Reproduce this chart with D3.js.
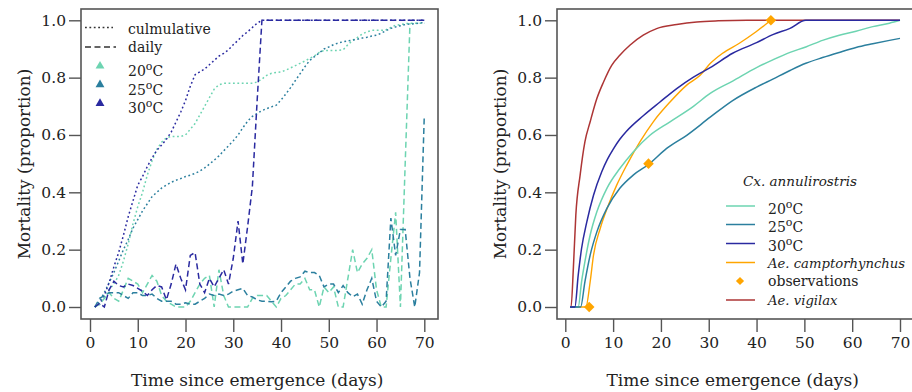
<!DOCTYPE html>
<html><head><meta charset="utf-8">
<script src="https://cdn.jsdelivr.net/npm/d3@7"></script>
<style>body{margin:0;background:#fff}svg{display:block}text{font-family:"DejaVu Serif",serif;fill:#222}</style>
</head><body><svg id="c" width="912" height="392"></svg>
<script>
// ---------- DATA ----------
const temps = ["20", "25", "30"];
const tempColors = ["#6dd4b1", "#2b7f9e", "#2a2aa0"];
const xTicks = [0, 10, 20, 30, 40, 50, 60, 70];
const yTicks = [0, 0.2, 0.4, 0.6, 0.8, 1.0];

// left panel: observed, one value per day starting at day 1
const cum20 = [0,0.01,0.03,0.06,0.08,0.11,0.16,0.22,0.29,0.35,0.40,0.46,0.51,0.55,0.575,0.59,0.595,0.595,0.595,0.6,
  0.62,0.64,0.67,0.70,0.73,0.76,0.775,0.78,0.78,0.78,0.78,0.78,0.78,0.78,0.785,0.795,0.808,0.815,0.818,0.82,
  0.826,0.834,0.842,0.85,0.858,0.867,0.876,0.888,0.895,0.895,0.895,0.895,0.897,0.915,0.93,0.94,0.952,0.96,0.965,0.965,
  0.965,0.967,0.975,0.983,0.985,0.988,0.99,0.99,0.99,0.99];
const cum25 = [0,0.02,0.05,0.085,0.12,0.16,0.2,0.235,0.275,0.305,0.335,0.36,0.385,0.4,0.415,0.425,0.435,0.442,0.448,0.455,
  0.46,0.466,0.474,0.485,0.498,0.512,0.527,0.545,0.562,0.58,0.6,0.625,0.648,0.665,0.675,0.685,0.692,0.698,0.704,0.722,
  0.743,0.765,0.79,0.814,0.838,0.86,0.873,0.886,0.9,0.907,0.915,0.921,0.925,0.928,0.931,0.934,0.938,0.941,0.945,0.948,
  0.955,0.964,0.972,0.977,0.981,0.985,0.987,0.988,0.99,0.993];
const cum30 = [0,0.01,0.04,0.085,0.14,0.19,0.25,0.315,0.37,0.425,0.455,0.49,0.52,0.547,0.565,0.585,0.61,0.645,0.68,0.72,
  0.77,0.81,0.82,0.83,0.845,0.86,0.875,0.885,0.897,0.915,0.93,0.947,0.96,0.975,0.99,1,1,1,1,1,
  1,1,1,1,1,1,1,1,1,1,1,1,1,1,1,1,1,1,1,1,1,1,1,1,1,1,1,1,1,1];
const daily20 = [0,0.01,0.03,0.05,0.03,0.02,0.06,0.1,0.09,0.08,0.05,0.08,0.11,0.09,0.04,0.02,0.01,0,0,0,
  0.02,0.05,0.08,0.1,0.11,0,0.13,0.04,0,0,0,0,0,0.03,0.04,0.04,0.04,0.02,0,0.03,
  0.04,0.06,0.08,0.08,0.1,0.06,0.06,0,0.07,0.05,0.07,0,0,0.1,0.2,0.12,0.15,0.17,0.2,0.06,
  0,0,0.17,0.33,0,0.5,0.99];
const daily25 = [0,0.03,0.04,0.05,0.05,0.05,0.04,0.03,0.05,0.05,0.04,0.04,0.045,0.03,0.02,0.02,0.02,0.01,0.01,0.015,
  0.01,0.01,0.02,0.03,0.045,0.04,0.045,0.04,0.045,0.055,0.06,0.065,0.04,0.035,0.025,0.02,0.02,0.018,0.02,0.05,
  0.07,0.09,0.1,0.105,0.125,0.12,0.12,0.11,0.07,0.08,0.08,0.05,0.075,0.05,0.036,0.045,0.01,0.06,0.1,0.02,
  0,0.02,0.31,0.18,0.27,0.27,0.1,0,0.12,0.67];
const daily30 = [0,0.013,0,0.06,0.09,0.075,0.07,0.08,0.075,0.065,0.055,0.04,0.06,0.075,0.07,0.025,0.08,0.15,0.1,0.06,
  0.18,0.19,0.08,0.05,0.1,0.07,0.1,0.13,0.08,0.17,0.3,0.15,0.28,0.42,0.72,1,1,1,1,1,
  1,1,1,1,1,1,1,1,1,1,1,1,1,1,1,1,1,1,1,1,1,1,1,1,1,1,1,1,1,1];

// right panel: model curves (day, value)
const m20Days = [1,2.7,3.4,4.1,5.2,6.6,8.7,11.4,14.2,17.7,21.9,26.8,30.3,35,40,43.4,47,50.3,53.8,57.3,60.8,64.3,67.8,70];
const m20Vals = [0,0,0.088,0.158,0.251,0.332,0.414,0.483,0.541,0.599,0.646,0.70,0.745,0.788,0.835,0.862,0.888,0.907,0.93,0.948,0.962,0.978,0.99,1.0];
const m25Days = [1,3.2,4.1,5.2,6.6,8.7,11.4,14.2,17.4,21.2,25.4,30.3,35,40,43.4,47,50.3,53.8,57.3,60.8,64.3,67.8,70];
const m25Vals = [0,0,0.088,0.181,0.262,0.344,0.414,0.46,0.497,0.553,0.599,0.662,0.72,0.767,0.795,0.825,0.85,0.87,0.888,0.905,0.918,0.93,0.937];
const m30Days = [1,2.0,2.7,3.4,4.5,5.9,7.6,8.8,10,11.4,12.8,16.3,19.8,23.3,26.8,30.3,35,40,43.4,47,50.3,70];
const m30Vals = [0,0,0.111,0.204,0.297,0.39,0.471,0.515,0.55,0.585,0.613,0.667,0.715,0.762,0.802,0.835,0.885,0.922,0.95,0.972,1.0,1.0];
const campDays = [1,4.3,5.2,5.9,7.3,9,10.75,12.85,15.6,18.4,21.9,25.4,28.2,30.3,32.9,36.4,39.9,43];
const campVals = [0,0,0.088,0.181,0.274,0.355,0.425,0.495,0.576,0.646,0.715,0.774,0.808,0.849,0.885,0.92,0.96,1.0];
const obsDays = [5, 17.4, 43];
const obsVals = [0, 0.5, 1.0];
const vigDays = [1,1.2,1.7,2.2,3.1,4.1,5.2,6.6,8,9.7,11.4,13.5,16.3,19.1,23.3,27.5,32,38,70];
const vigVals = [0,0,0.14,0.32,0.46,0.576,0.646,0.727,0.785,0.843,0.878,0.913,0.948,0.971,0.985,0.994,0.998,1.0,1.0];
const campColor = "#ffa500", vigColor = "#ad3535";

// ---------- DRAW ----------
const svg = d3.select("#c");
const yAxisColor = "#555";

function panel(box, xr) {
  const x = d3.scaleLinear().domain([0, 70]).range(xr);
  const y = d3.scaleLinear().domain([0, 1]).range([307, 20.3]);
  const g = svg.append("g");
  g.append("rect").attr("x", box[0]).attr("y", 9).attr("width", box[1] - box[0]).attr("height", 310)
    .attr("fill", "none").attr("stroke", "#555").attr("stroke-width", 1.6);
  const xa = g.append("g").attr("transform", `translate(0,319)`)
    .call(d3.axisBottom(x).tickValues(xTicks).tickSize(13).tickPadding(5).tickFormat(d3.format("d")));
  xa.select(".domain").remove();
  xa.selectAll("line").attr("stroke", yAxisColor).attr("stroke-width", 1.4);
  xa.selectAll("text").attr("font-size", 15.5).attr("fill", "#222").attr("font-family", "DejaVu Serif");
  const ya = g.append("g").attr("transform", `translate(${box[0]},0)`)
    .call(d3.axisLeft(y).tickValues(yTicks).tickSize(12).tickPadding(3).tickFormat(d3.format(".1f")));
  ya.select(".domain").remove();
  ya.selectAll("line").attr("stroke", yAxisColor).attr("stroke-width", 1.4);
  ya.selectAll("text").attr("font-size", 15.5).attr("fill", "#222").attr("font-family", "DejaVu Serif");
  g.append("text").attr("x", (xr[0] + xr[1]) / 2).attr("y", 386).attr("text-anchor", "middle")
    .attr("font-size", 17).text("Time since emergence (days)");
  g.append("text").attr("transform", `translate(${box[0] - 57},164) rotate(-90)`).attr("text-anchor", "middle")
    .attr("dominant-baseline", "central").attr("font-size", 17).text("Mortality (proportion)");
  return { x, y, g };
}

// Left panel
const L = panel([81, 438], [90, 424.3]);
const lineL = d3.line().x((d, i) => L.x(i + 1)).y(d => L.y(d));
const cums = [cum20, cum25, cum30], dailies = [daily20, daily25, daily30];
cums.forEach((s, k) => {
  L.g.append("path").attr("d", lineL(s)).attr("fill", "none").attr("stroke", tempColors[k])
    .attr("stroke-width", 1.5).attr("stroke-dasharray", "1.8,2.6");
});
dailies.forEach((s, k) => {
  L.g.append("path").attr("d", lineL(s)).attr("fill", "none").attr("stroke", tempColors[k])
    .attr("stroke-width", 1.5).attr("stroke-dasharray", "6,3.5");
});
const lg = L.g.append("g");
lg.append("line").attr("x1", 85).attr("x2", 113).attr("y1", 27.5).attr("y2", 27.5).attr("stroke", "#333")
  .attr("stroke-width", 1.3).attr("stroke-dasharray", "1.8,2.6");
lg.append("line").attr("x1", 85).attr("x2", 116).attr("y1", 47).attr("y2", 47).attr("stroke", "#333")
  .attr("stroke-width", 1.3).attr("stroke-dasharray", "6,3.5");
lg.append("text").attr("x", 128).attr("y", 33.5).attr("font-size", 14).text("culmulative");
lg.append("text").attr("x", 128).attr("y", 51.5).attr("font-size", 14).text("daily");
temps.forEach((t, k) => {
  const yy = 66 + k * 18.7;
  lg.append("path").attr("d", d3.symbol(d3.symbolTriangle, 34)())
    .attr("transform", `translate(100,${yy})`).attr("fill", tempColors[k]);
  const tx = lg.append("text").attr("x", 128).attr("y", yy + 10).attr("font-size", 14);
  tx.append("tspan").text(t);
  tx.append("tspan").attr("dy", -6).attr("font-size", 11).text("o");
  tx.append("tspan").attr("dy", 6).text("C");
});

// Right panel
const R = panel([557, 915], [565.3, 900]);
const lineR = (days, vals) => d3.line().curve(d3.curveMonotoneX).x((d, i) => R.x(days[i])).y(d => R.y(d))(vals);
const models = [[m20Days, m20Vals], [m25Days, m25Vals], [m30Days, m30Vals]];
R.g.append("path").attr("d", lineR(vigDays, vigVals)).attr("fill", "none").attr("stroke", vigColor).attr("stroke-width", 1.5);
R.g.append("path").attr("d", lineR(campDays, campVals)).attr("fill", "none").attr("stroke", campColor).attr("stroke-width", 1.4);
models.forEach((m, k) => {
  R.g.append("path").attr("d", lineR(m[0], m[1])).attr("fill", "none").attr("stroke", tempColors[k]).attr("stroke-width", 1.5);
});
obsDays.forEach((d, i) => {
  R.g.append("path").attr("d", d3.symbol(d3.symbolSquare, 56)())
    .attr("transform", `translate(${R.x(d)},${R.y(obsVals[i])}) rotate(45)`).attr("fill", campColor);
});
const rg = R.g.append("g");
rg.append("text").attr("x", 743).attr("y", 186).attr("font-size", 13.5).attr("font-style", "italic").text("Cx. annulirostris");
const legRows = [
  { c: tempColors[0], t: "20", deg: true, y: 206 },
  { c: tempColors[1], t: "25", deg: true, y: 224.5 },
  { c: tempColors[2], t: "30", deg: true, y: 243.5 },
  { c: campColor, t: "Ae. camptorhynchus", it: true, y: 262.5 },
  { c: campColor, t: "observations", pt: true, y: 281 },
  { c: vigColor, t: "Ae. vigilax", it: true, y: 300 }
];
legRows.forEach(r => {
  if (r.pt) {
    rg.append("path").attr("d", d3.symbol(d3.symbolSquare, 34)()).attr("transform", `translate(740,${r.y}) rotate(45)`).attr("fill", r.c);
  } else {
    rg.append("line").attr("x1", 726).attr("x2", 755).attr("y1", r.y).attr("y2", r.y).attr("stroke", r.c).attr("stroke-width", 1.5);
  }
  const tx = rg.append("text").attr("x", 768).attr("font-size", 14);
  if (r.deg) {
    tx.attr("y", r.y + 7.5);
    tx.append("tspan").text(r.t);
    tx.append("tspan").attr("dy", -6).attr("font-size", 11).text("o");
    tx.append("tspan").attr("dy", 6).text("C");
  } else {
    tx.attr("y", r.y + 5).text(r.t);
    if (r.it) tx.attr("font-style", "italic").attr("font-size", 13.2);
  }
});
</script></body></html>
